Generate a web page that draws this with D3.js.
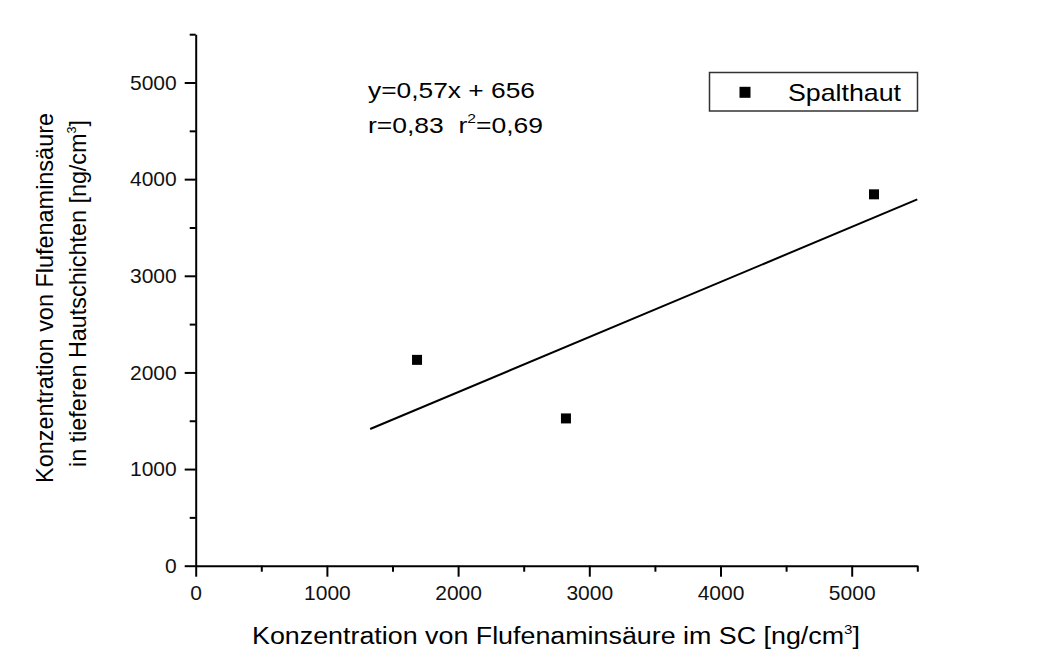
<!DOCTYPE html>
<html>
<head>
<meta charset="utf-8">
<script src="https://cdn.jsdelivr.net/npm/d3@7/dist/d3.min.js"></script>
<style>
  html, body { margin: 0; padding: 0; background: #ffffff; }
  svg { display: block; font-family: "Liberation Sans", Arial, sans-serif; }
  svg text { white-space: pre; }
</style>
</head>
<body>
<svg id="chart" width="1049" height="661"></svg>
<script>
// Measurements: Spalthaut samples
const seriesName = "Spalthaut";
const scConc = [1687, 2822, 5170];        // concentration in SC [ng/cm3]
const deepConc = [2130, 1524, 3843];      // concentration in deeper skin layers [ng/cm3]

// Linear fit
const fitSlope = 0.57;
const fitIntercept = 656;
const fitRange = [1330, 5500];

// Axis ticks
const xMajorTicks = [0, 1000, 2000, 3000, 4000, 5000];
const xMinorTicks = [500, 1500, 2500, 3500, 4500, 5500];
const yMajorTicks = [0, 1000, 2000, 3000, 4000, 5000];
const yMinorTicks = [500, 1500, 2500, 3500, 4500, 5500];

const svg = d3.select("#chart");
svg.append("rect").attr("width", 1049).attr("height", 661).attr("fill", "#ffffff");

const x = d3.scaleLinear().domain([0, 5500]).range([195.7, 917.3]);
const y = d3.scaleLinear().domain([0, 5500]).range([565.7, 34.2]);

const fontSize = 21;

// Axes: major ticks with labels
svg.append("g")
  .attr("transform", `translate(0,${y(0)})`)
  .call(d3.axisBottom(x).tickValues(xMajorTicks).tickSize(11).tickSizeOuter(0).tickPadding(8).tickFormat(d3.format("d")));
svg.append("g")
  .attr("transform", `translate(${x(0)},0)`)
  .call(d3.axisLeft(y).tickValues(yMajorTicks).tickSize(11).tickSizeOuter(0).tickPadding(8).tickFormat(d3.format("d")));

// Minor ticks
svg.append("g")
  .attr("transform", `translate(0,${y(0)})`)
  .call(d3.axisBottom(x).tickValues(xMinorTicks).tickSize(6).tickSizeOuter(0).tickFormat(""))
  .select(".domain").remove();
svg.append("g")
  .attr("transform", `translate(${x(0)},0)`)
  .call(d3.axisLeft(y).tickValues(yMinorTicks).tickSize(6).tickSizeOuter(0).tickFormat(""))
  .select(".domain").remove();

svg.selectAll(".domain").attr("stroke", "#000").attr("stroke-width", 2);
svg.selectAll(".tick line").attr("stroke", "#000").attr("stroke-width", 2);
svg.selectAll(".tick text")
  .attr("fill", "#111")
  .style("font-size", fontSize + "px")
  .style("font-family", "'Liberation Sans', Arial, sans-serif");

// Regression line
const fitLine = d3.line().x(d => x(d)).y(d => y(fitSlope * d + fitIntercept));
svg.append("path")
  .datum(fitRange)
  .attr("d", fitLine)
  .attr("fill", "none")
  .attr("stroke", "#000")
  .attr("stroke-width", 2);

// Data points
const marker = 10;
svg.append("g").selectAll("rect")
  .data(scConc.map((v, i) => [v, deepConc[i]]))
  .join("rect")
  .attr("x", d => x(d[0]) - marker / 2)
  .attr("y", d => y(d[1]) - marker / 2)
  .attr("width", marker)
  .attr("height", marker)
  .attr("fill", "#000");

// Fit annotation
const ann = svg.append("g").attr("font-size", "22px").attr("fill", "#000");
ann.append("text").attr("x", 368).attr("y", 98)
  .attr("textLength", 167).attr("lengthAdjust", "spacingAndGlyphs")
  .text("y=0,57x + 656");
const ann2 = ann.append("text").attr("x", 368).attr("y", 133)
  .attr("textLength", 175).attr("lengthAdjust", "spacingAndGlyphs");
ann2.append("tspan").text("r=0,83  r");
ann2.append("tspan").attr("dy", -10).attr("font-size", "13px").text("2");
ann2.append("tspan").attr("dy", 10).text("=0,69");

// Legend
const legend = svg.append("g");
legend.append("rect")
  .attr("x", 709.5).attr("y", 72.5).attr("width", 208).attr("height", 38.5)
  .attr("fill", "#fff").attr("stroke", "#333").attr("stroke-width", 1.5);
legend.append("rect")
  .attr("x", 745 - 5.5).attr("y", 92.3 - 5.5).attr("width", 11).attr("height", 11)
  .attr("fill", "#000");
legend.append("text")
  .attr("x", 788).attr("y", 101)
  .attr("font-size", "24px")
  .attr("textLength", 113).attr("lengthAdjust", "spacingAndGlyphs")
  .text(seriesName);

// X axis title
const xt = svg.append("text")
  .attr("x", 252).attr("y", 644)
  .attr("font-size", "23px")
  .attr("textLength", 608).attr("lengthAdjust", "spacingAndGlyphs");
xt.append("tspan").text("Konzentration von Flufenaminsäure im SC [ng/cm");
xt.append("tspan").attr("dy", -10).attr("font-size", "13px").text("3");
xt.append("tspan").attr("dy", 10).text("]");

// Y axis title (two lines, rotated)
const yt = svg.append("g").attr("transform", "rotate(-90)").attr("font-size", "24px");
yt.append("text")
  .attr("x", -483).attr("y", 53)
  .attr("textLength", 370).attr("lengthAdjust", "spacingAndGlyphs")
  .text("Konzentration von Flufenaminsäure");
const yt2 = yt.append("text")
  .attr("x", -467).attr("y", 86)
  .attr("textLength", 347).attr("lengthAdjust", "spacingAndGlyphs");
yt2.append("tspan").text("in tieferen Hautschichten [ng/cm");
yt2.append("tspan").attr("dy", -10).attr("font-size", "13px").text("3");
yt2.append("tspan").attr("dy", 10).text("]");
</script>
</body>
</html>
